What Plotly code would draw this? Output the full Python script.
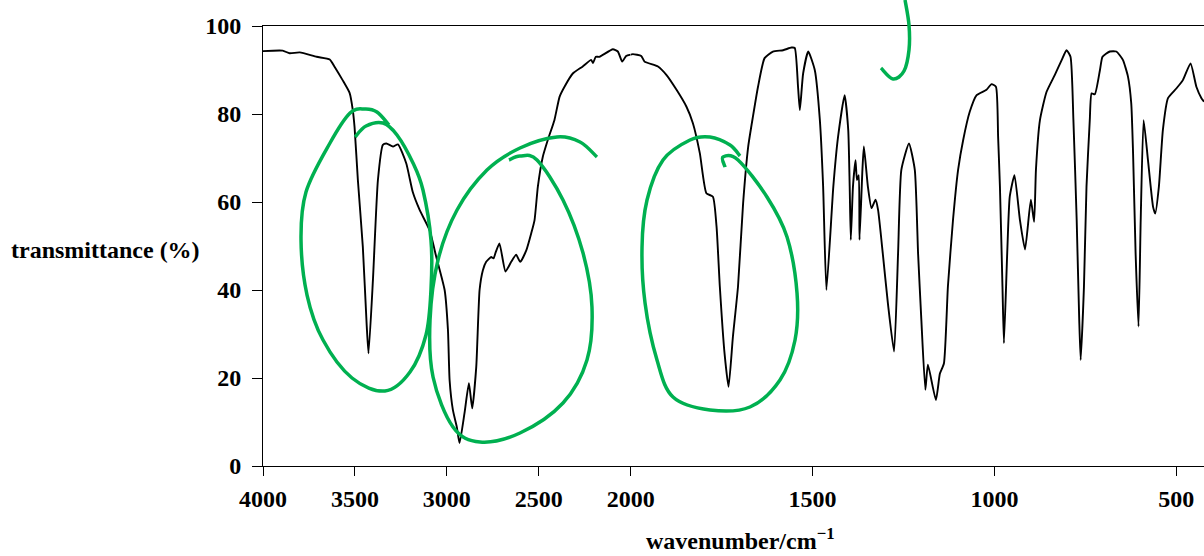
import plotly.graph_objects as go

# ---- data ----
wavenumber = [4000, 3893, 3855, 3800, 3708, 3637, 3610, 3567, 3529, 3512, 3502, 3484, 3457, 3436, 3426,
              3402, 3375, 3348, 3329, 3293, 3266, 3221, 3185, 3148, 3094, 3058, 3012, 2994, 2985, 2967,
              2946, 2931, 2904, 2880, 2862, 2840, 2822, 2804, 2786, 2759, 2746, 2735, 2714, 2681, 2650,
              2623, 2601, 2568, 2541, 2523, 2505, 2478, 2451, 2415, 2387, 2360, 2315, 2261, 2215, 2205,
              2190, 2170, 2097, 2070, 2046, 2025, 2000,
              1994, 1971, 1962, 1925, 1902, 1874, 1847, 1829, 1810, 1792, 1774, 1764, 1755, 1742, 1731,
              1719, 1705, 1691, 1677, 1664, 1650, 1632, 1609, 1581, 1558, 1549, 1540, 1535, 1526, 1512,
              1494, 1480, 1471, 1462, 1443, 1430, 1412, 1402, 1398, 1395, 1389, 1382, 1378, 1373, 1371,
              1363, 1359, 1348, 1338, 1327, 1320, 1307, 1293, 1276, 1265, 1256, 1235, 1219, 1210, 1201,
              1190, 1183, 1161, 1150, 1139, 1128, 1114, 1100, 1086, 1068, 1049, 1022, 1008, 996, 990,
              985, 978, 974, 965, 958, 945, 930, 916, 900, 891, 886, 875, 857, 834, 815, 802, 791, 783,
              774, 767, 763, 754, 747, 738, 733, 724, 710, 703, 683, 665, 647, 633, 624, 619, 612, 604,
              598, 590, 578, 564, 558, 548, 537, 523, 500, 482, 461, 445, 431, 424]
transmittance = [94.3, 94.4, 93.8, 94.0, 93.0, 92.4, 90.7, 87.7, 84.8, 81.0, 77.0, 65.0, 49.8, 32.0, 25.6,
                 42.3, 65.0, 73.0, 73.3, 72.6, 73.1, 68.8, 62.2, 58.2, 53.6, 47.6, 40.0, 30.9, 19.5, 12.7,
                 8.9, 5.2, 12.0, 18.8, 13.1, 22.6, 40.0, 44.5, 46.4, 47.5, 47.2, 48.5, 50.6, 44.2, 46.4,
                 48.0, 46.4, 49.0, 52.9, 55.9, 63.5, 70.3, 74.1, 78.6, 83.9, 86.2, 89.2, 90.8, 92.3, 91.6,
                 93.0, 93.0, 94.7, 94.2, 91.9, 93.2, 93.5,
                 93.6, 93.2, 91.9, 90.8, 88.9, 85.5, 81.7, 77.9, 71.1, 62.0, 61.2, 54.4, 40.8, 25.6, 18.0,
                 29.4, 40.8, 59.7, 72.6, 79.4, 86.2, 92.7, 94.2, 94.5, 95.1, 95.0, 86.2, 80.9, 89.2, 94.2,
                 90.0, 78.6, 63.5, 40.0, 63.5, 74.8, 84.3, 76.4, 63.5, 51.4, 63.5, 69.5, 65.0, 66.1, 51.4,
                 67.3, 72.6, 63.5, 58.6, 60.5, 58.2, 48.3, 37.0, 26.0, 48.3, 67.3, 73.3, 67.3, 48.3, 33.2,
                 17.3, 23.0, 15.0, 21.0, 23.3, 40.8, 55.9, 67.3, 74.1, 80.5, 84.3, 85.5, 86.8, 86.2, 74.8,
                 63.5, 40.8, 27.9, 48.3, 61.2, 66.1, 55.9, 49.2, 60.5, 55.5, 67.3, 78.6, 85.0, 88.9, 92.3,
                 94.5, 93.0, 78.6,
                 55.9, 33.2, 24.1, 40.8, 63.5, 78.6, 84.7, 84.5, 90.0, 93.0, 94.2, 94.2, 92.3, 88.5, 82.4,
                 71.1, 48.3, 31.7, 55.9, 78.6, 69.5, 58.9, 57.4, 63.5, 76.4, 83.6, 85.8, 87.7, 91.5, 86.2,
                 83.6, 82.8]
x_ticks_high = [4000, 3500, 3000, 2500, 2000]
x_ticks_low = [1500, 1000, 500]
y_ticks = [0, 20, 40, 60, 80, 100]

# split into the two linear segments of the axis (scale doubles below 2000 cm-1)
hi = [(w, t) for w, t in zip(wavenumber, transmittance) if w >= 2000]
lo = [(w, t) for w, t in zip(wavenumber, transmittance) if w <= 2000]

FONT = "Liberation Serif, Times New Roman, serif"
GREEN = "#00B050"
TXT = dict(family=FONT, size=24, color="black", weight="bold")

fig = go.Figure()
line = dict(color="black", width=1.9, shape="spline", smoothing=0.5)
fig.add_trace(go.Scatter(x=[p[0] for p in hi], y=[p[1] for p in hi], mode="lines",
                         line=line, xaxis="x", yaxis="y", showlegend=False, hoverinfo="skip"))
fig.add_trace(go.Scatter(x=[p[0] for p in lo], y=[p[1] for p in lo], mode="lines",
                         line=line, xaxis="x2", yaxis="y", showlegend=False, hoverinfo="skip"))

# ---- hand-drawn green annotation strokes (pixel positions -> paper coords) ----
L, R, T, B = 263, 1204, 26, 466


def to_paper(p):
    return ((p[0] - L) / (R - L), (B - p[1]) / (B - T))


def stroke(points):
    pts = [to_paper(p) for p in points]
    n = len(pts)
    d = "M {:.4f},{:.4f}".format(*pts[0])
    for i in range(n - 1):
        p0 = pts[i - 1] if i > 0 else pts[i]
        p1 = pts[i]
        p2 = pts[i + 1]
        p3 = pts[i + 2] if i + 2 < n else pts[i + 1]
        c1 = (p1[0] + (p2[0] - p0[0]) / 6, p1[1] + (p2[1] - p0[1]) / 6)
        c2 = (p2[0] - (p3[0] - p1[0]) / 6, p2[1] - (p3[1] - p1[1]) / 6)
        d += " C {:.4f},{:.4f} {:.4f},{:.4f} {:.4f},{:.4f}".format(*c1, *c2, *p2)
    return d


strokes = [
    [(355, 137), (366, 126), (383, 123), (397, 135), (413, 163), (423, 190), (431, 240), (431, 290),
     (426, 335), (410, 372), (385, 391), (352, 378), (323, 340), (307, 295), (301, 240), (306, 192),
     (330, 143), (350, 113), (365, 109), (377, 112), (389, 125)],
    [(509, 160), (520, 156), (537, 160), (563, 200), (583, 253), (592, 307), (587, 360), (563, 403),
     (520, 433), (480, 442), (453, 427), (433, 377), (430, 320), (438, 260), (457, 210), (487, 170),
     (520, 148), (557, 137), (580, 142), (597, 157)],
    [(725, 167), (723, 157), (738, 160), (767, 197), (787, 237), (797, 293), (795, 340), (780, 380),
     (750, 407), (710, 410), (673, 397), (657, 360), (645, 303), (642, 247), (647, 200), (663, 160),
     (690, 140), (710, 137), (730, 145), (740, 156)],
    [(905, 0), (909, 25), (909, 50), (904, 71), (893, 79), (881, 68)],
]
shapes = [dict(type="path", xref="paper", yref="paper", path=stroke(s),
               line=dict(color=GREEN, width=3.5), layer="above") for s in strokes]

axis_common = dict(showline=True, linecolor="black", linewidth=1, ticks="outside", ticklen=9,
                   tickcolor="black", tickwidth=1, showgrid=False, zeroline=False,
                   tickfont=TXT, mirror=True, ticklabelstandoff=2)

fig.update_layout(
    width=1204, height=556, autosize=False,
    margin=dict(l=263, r=0, t=26, b=90, autoexpand=False),
    paper_bgcolor="white", plot_bgcolor="white",
    xaxis=dict(domain=[0, 367.7 / 941], range=[4000, 2000], tickvals=x_ticks_high,
               ticktext=[str(v) for v in x_ticks_high], **axis_common),
    xaxis2=dict(domain=[367.7 / 941, 1], range=[2000, 424], tickvals=x_ticks_low,
                ticktext=[str(v) for v in x_ticks_low], anchor="y", **axis_common),
    yaxis=dict(range=[0, 100], tickvals=y_ticks, ticktext=[str(v) for v in y_ticks],
               showline=True, linecolor="black", linewidth=1, ticks="outside", ticklen=10,
               tickcolor="black", showgrid=False, zeroline=False, tickfont=TXT,
               ticklabelstandoff=6),
    shapes=shapes,
    annotations=[
        dict(text="transmittance (%)", xref="paper", yref="paper", x=(105 - L) / (R - L),
             y=(B - 250) / (B - T), xanchor="center", yanchor="middle", showarrow=False,
             font=TXT),
        dict(text="wavenumber/cm<sup>−1</sup>", xref="paper", yref="paper", x=(740 - L) / (R - L),
             y=(B - 539) / (B - T), xanchor="center", yanchor="middle", showarrow=False,
             font=TXT),
    ],
)

fig.write_html(
    "out.html",
    config={"responsive": False, "displayModeBar": False},
    post_script="document.body.style.margin='0';document.body.style.overflow='hidden';",
)
